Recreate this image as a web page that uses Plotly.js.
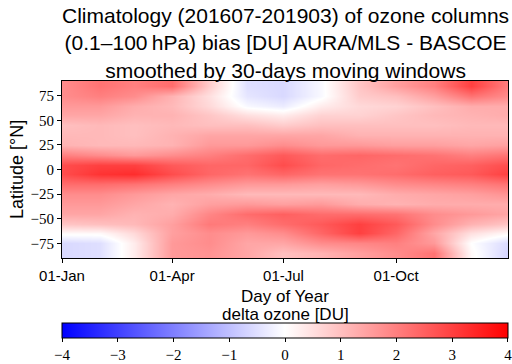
<!DOCTYPE html>
<html>
<head>
<meta charset="utf-8">
<script src="https://cdn.plot.ly/plotly-3.0.1.min.js"></script>
<style>
  body { margin: 0; background: white; }
  #chart { width: 512px; height: 364px; }
</style>
</head>
<body>
<div id="chart"></div>
<script>
// day of year (column centres) and latitude (row centres)
const days = [1, 32, 60, 91, 121, 152, 182, 213, 244, 274, 305, 335, 366];
const lats = [85, 75, 65, 55, 45, 35, 25, 15, 5, -5, -15, -25, -35, -45, -55, -65, -75, -85];

// ozone column bias [DU], one row per latitude
const bias = [
  [1.8, 2.2, 2.0, 2.3, 0.8, -0.5, -0.6, -0.1, 0.9, 1.5, 2.0, 3.0, 2.0],
  [1.8, 2.0, 1.8, 1.2, 0.5, -0.4, -0.6, -0.1, 0.8, 1.0, 1.5, 2.2, 1.8],
  [1.6, 1.6, 1.3, 1.1, 0.6, -0.1, -0.3, 0.3, 0.6, 0.7, 1.0, 1.3, 1.3],
  [1.4, 1.4, 1.2, 1.2, 0.9, 0.5, 0.3, 0.7, 0.7, 0.9, 1.1, 1.2, 1.3],
  [1.0, 1.1, 1.0, 1.1, 1.0, 1.0, 0.8, 1.0, 1.0, 1.0, 1.0, 1.1, 1.1],
  [1.1, 1.1, 1.0, 1.2, 1.4, 1.4, 1.4, 1.4, 1.2, 1.2, 1.2, 1.2, 1.2],
  [1.2, 1.1, 1.1, 1.2, 1.6, 1.6, 1.8, 1.6, 1.6, 1.5, 1.5, 1.4, 1.5],
  [2.0, 1.8, 1.6, 1.8, 2.0, 2.3, 2.6, 2.3, 2.4, 2.3, 2.2, 2.0, 2.2],
  [2.8, 3.0, 3.0, 2.6, 2.4, 2.4, 2.8, 2.4, 2.3, 2.2, 2.4, 2.5, 2.8],
  [2.8, 3.2, 3.3, 2.8, 2.4, 2.2, 2.4, 2.2, 2.2, 2.3, 2.5, 2.6, 3.0],
  [2.3, 2.3, 2.2, 2.0, 1.8, 1.6, 1.6, 1.5, 1.6, 1.8, 1.9, 2.0, 2.2],
  [1.8, 1.8, 1.6, 1.4, 1.3, 1.1, 1.1, 1.1, 1.1, 1.3, 1.4, 1.5, 1.7],
  [1.6, 1.6, 1.4, 1.2, 1.5, 1.6, 1.5, 1.6, 1.3, 1.2, 1.3, 1.3, 1.3],
  [1.4, 1.4, 1.2, 1.3, 1.9, 2.3, 2.5, 2.3, 2.3, 2.2, 1.8, 1.6, 1.4],
  [0.9, 1.0, 1.1, 1.5, 2.1, 2.0, 2.3, 2.6, 3.0, 2.6, 1.8, 1.2, 0.9],
  [0.1, 0.1, 0.6, 1.5, 1.8, 1.6, 1.8, 2.4, 3.0, 2.4, 1.4, 0.5, 0.1],
  [-0.6, -0.5, 0.3, 1.6, 1.8, 1.4, 1.4, 1.8, 1.9, 2.0, 1.6, 0.0, -0.6],
  [-0.6, -0.5, 0.3, 1.6, 1.7, 1.4, 1.0, 1.2, 1.5, 1.8, 2.2, 0.1, -0.7]
];

const monthTicks = [1, 91, 182, 274];
const monthLabels = ['01-Jan', '01-Apr', '01-Jul', '01-Oct'];
const cbarTicks = [-4, -3, -2, -1, 0, 1, 2, 3, 4];

const sans = 'Liberation Sans, Arial, sans-serif';
const serif = 'Liberation Serif, DejaVu Serif, serif';

const trace = {
  type: 'heatmap',
  x: days,
  y: lats,
  z: bias,
  zmin: -4.001,
  zmax: 4.001,
  zsmooth: 'best',
  colorscale: [[0, 'rgb(0,0,255)'], [0.5, 'rgb(255,255,255)'], [1, 'rgb(255,0,0)']],
  hoverinfo: 'skip',
  colorbar: {
    orientation: 'h',
    x: 0.5,
    xanchor: 'center',
    len: 1,
    lenmode: 'fraction',
    xpad: 0,
    y: -0.37,
    yanchor: 'top',
    ypad: 0,
    thickness: 15,
    outlinewidth: 1,
    outlinecolor: 'black',
    ticks: 'outside',
    ticklen: 4,
    tickcolor: 'black',
    tickvals: cbarTicks,
    ticklabeloverflow: 'allow',
    tickfont: { family: serif, size: 15, color: 'black' }
  }
};

const layout = {
  width: 512,
  height: 364,
  margin: { l: 62, r: 4, t: 81, b: 106, autoexpand: false },
  paper_bgcolor: 'white',
  plot_bgcolor: 'white',
  xaxis: {
    range: [1, 365.5],
    tickvals: monthTicks,
    ticktext: monthLabels,
    ticks: 'outside',
    ticklen: 4,
    tickcolor: 'black',
    showline: true,
    linecolor: 'black',
    linewidth: 1,
    mirror: true,
    showgrid: false,
    zeroline: false,
    tickfont: { family: sans, size: 15, color: 'black' },
    title: { text: 'Day of Year', font: { family: sans, size: 17, color: 'black' }, standoff: 7 }
  },
  yaxis: {
    range: [-90, 90],
    tickvals: [-75, -50, -25, 0, 25, 50, 75],
    ticks: 'outside',
    ticklen: 4,
    tickcolor: 'black',
    showline: true,
    linecolor: 'black',
    linewidth: 1,
    mirror: true,
    showgrid: false,
    zeroline: false,
    tickfont: { family: serif, size: 15, color: 'black' },
    title: { text: 'Latitude [°N]', font: { family: sans, size: 18, color: 'black' }, standoff: 2 }
  },
  annotations: [
    {
      // chart title as one annotation so the three lines sit where they should
      text: 'Climatology (201607-201903) of ozone columns<br>(0.1–100\u2009hPa) bias [DU] AURA/MLS - BASCOE<br>smoothed by 30-days moving windows',
      xref: 'paper',
      yref: 'paper',
      x: 0.5,
      y: 1.446,
      yanchor: 'top',
      showarrow: false,
      font: { family: sans, size: 21, color: 'black' }
    },
    {
      text: 'delta ozone [DU]',
      xref: 'paper',
      yref: 'paper',
      x: 0.5,
      y: -0.255,
      yanchor: 'top',
      showarrow: false,
      font: { family: sans, size: 17, color: 'black' }
    }
  ]
};

Plotly.newPlot('chart', [trace], layout, { displayModeBar: false, staticPlot: true });
</script>
</body>
</html>
